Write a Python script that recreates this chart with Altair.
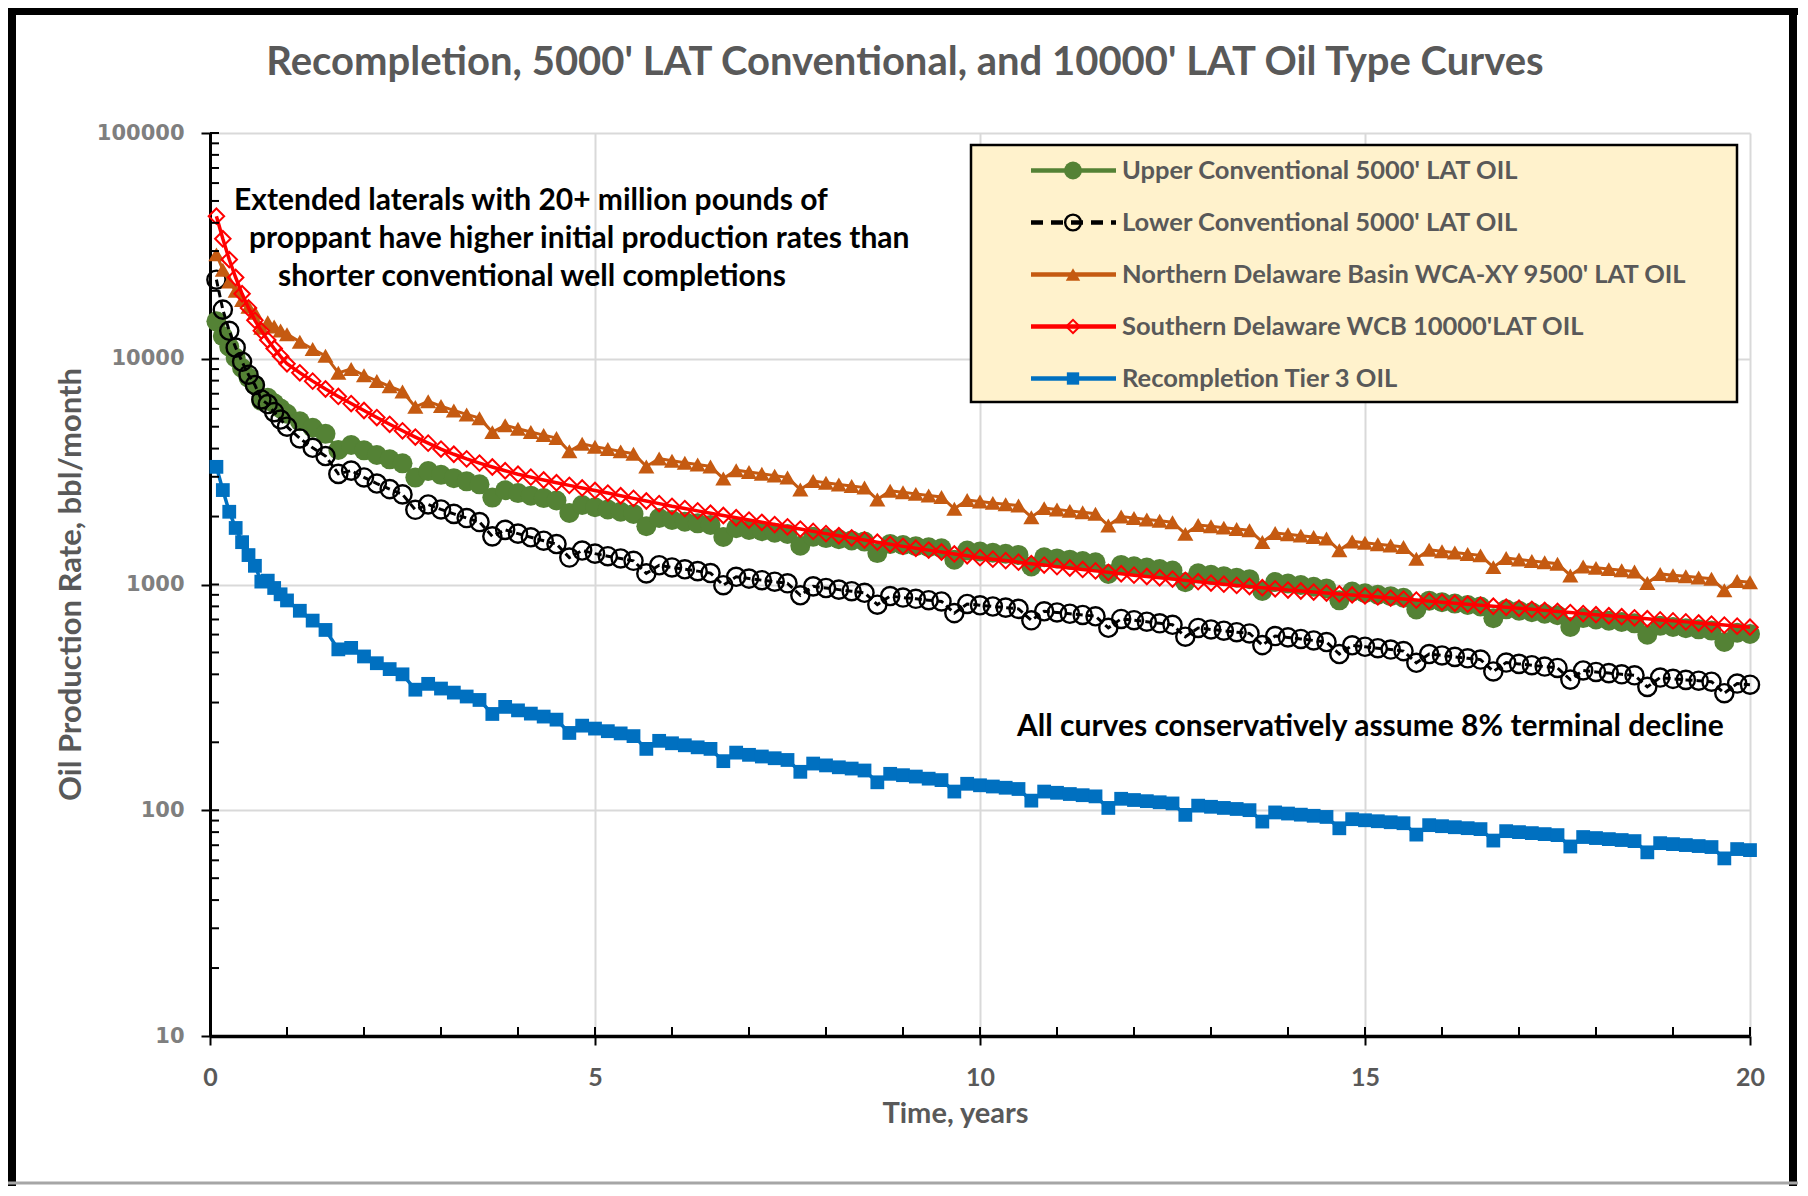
import altair as alt
import pandas as pd

# ---------------- data ----------------
# month index of each plotted point (monthly in year 1, every 2nd month afterwards)
MONTHS = list(range(1, 13)) + list(range(14, 241, 2))

SERIES_NAMES = [
    "Upper Conventional 5000' LAT OIL",
    "Lower Conventional 5000' LAT OIL",
    "Northern Delaware Basin WCA-XY 9500' LAT OIL",
    "Southern Delaware WCB 10000'LAT OIL",
    "Recompletion Tier 3 OIL",
]

UPPER_CONV = [
    14650, 12600, 11300, 10100, 9100, 8250, 7650, 6500, 6720, 6350, 6020, 5700,
    5288, 4945, 4648, 3947, 4147, 3930,
    3746, 3585, 3441, 2975, 3180, 3060,
    2958, 2865, 2777, 2426, 2615, 2540,
    2475, 2414, 2356, 2073, 2250, 2200,
    2149, 2101, 2055, 1811, 1970, 1930,
    1898, 1866, 1835, 1625, 1775, 1745,
    1721, 1697, 1673, 1485, 1627, 1605,
    1586, 1568, 1549, 1378, 1513, 1495,
    1479, 1463, 1447, 1288, 1415, 1400,
    1384, 1368, 1352, 1202, 1320, 1305,
    1288, 1271, 1254, 1113, 1221, 1205,
    1188, 1171, 1154, 1023, 1121, 1105,
    1089, 1072, 1056, 937, 1025, 1010,
    994, 977, 961, 851, 930, 915,
    901, 888, 874, 775, 848, 835,
    823, 811, 799, 709, 776, 765,
    754, 742, 731, 649, 710, 700,
    691, 682, 673, 599, 656, 648,
    640, 633, 625, 556, 611, 604,
]

LOWER_CONV = [
    22400, 16500, 13300, 11200, 9700, 8500, 7650, 6600, 6300, 5800, 5380, 5000,
    4435, 4033, 3708, 3090, 3195, 2980,
    2801, 2646, 2507, 2142, 2262, 2150,
    2055, 1969, 1890, 1634, 1746, 1680,
    1619, 1563, 1511, 1316, 1414, 1370,
    1335, 1304, 1273, 1120, 1217, 1190,
    1168, 1146, 1124, 993, 1082, 1062,
    1045, 1029, 1012, 896, 981, 965,
    949, 934, 919, 814, 889, 875,
    864, 852, 841, 747, 820, 809,
    799, 790, 780, 694, 761, 752,
    742, 733, 723, 643, 704, 695,
    684, 673, 663, 587, 642, 632,
    624, 615, 607, 539, 591, 583,
    574, 565, 556, 492, 538, 530,
    522, 515, 507, 450, 492, 485,
    478, 471, 465, 412, 451, 445,
    439, 433, 427, 379, 416, 410,
    405, 400, 396, 352, 387, 382,
    378, 375, 371, 330, 364, 360,
]

NORTH_DEL = [
    29000, 24800, 22000, 20000, 18200, 17000, 16000, 13700, 14500, 13900, 13350, 12850,
    11886, 11049, 10302, 8663, 9010, 8450,
    7974, 7547, 7158, 6122, 6477, 6170,
    5905, 5668, 5456, 4732, 5075, 4900,
    4739, 4590, 4452, 3891, 4199, 4080,
    3983, 3888, 3795, 3335, 3616, 3530,
    3464, 3398, 3334, 2945, 3210, 3150,
    3092, 3036, 2980, 2633, 2872, 2820,
    2775, 2730, 2687, 2380, 2602, 2560,
    2520, 2481, 2442, 2164, 2367, 2330,
    2299, 2268, 2238, 1987, 2179, 2150,
    2119, 2088, 2058, 1825, 1999, 1970,
    1942, 1915, 1888, 1676, 1836, 1810,
    1786, 1762, 1738, 1544, 1692, 1670,
    1646, 1622, 1598, 1418, 1552, 1530,
    1508, 1487, 1466, 1301, 1425, 1405,
    1385, 1366, 1346, 1194, 1309, 1290,
    1272, 1254, 1236, 1097, 1202, 1185,
    1170, 1156, 1142, 1015, 1114, 1100,
    1087, 1074, 1061, 944, 1036, 1024,
]

SOUTH_DEL = [
    42800, 34000, 27500, 22900, 19400, 16800, 14800, 13300, 12100, 11100, 10250, 9500,
    8665, 7959, 7347, 6809, 6330, 5900,
    5490, 5124, 4796, 4499, 4229, 3980,
    3775, 3601, 3450, 3314, 3191, 3080,
    2989, 2904, 2824, 2749, 2678, 2610,
    2541, 2473, 2407, 2343, 2281, 2220,
    2169, 2119, 2070, 2022, 1976, 1930,
    1886, 1843, 1801, 1760, 1719, 1680,
    1644, 1609, 1574, 1540, 1507, 1475,
    1447, 1420, 1393, 1366, 1340, 1315,
    1295, 1276, 1256, 1237, 1219, 1200,
    1183, 1166, 1149, 1132, 1116, 1100,
    1085, 1071, 1057, 1043, 1029, 1015,
    1003, 991, 980, 968, 957, 945,
    936, 926, 917, 908, 899, 890,
    881, 871, 862, 853, 844, 835,
    826, 818, 809, 801, 793, 785,
    776, 768, 760, 751, 743, 735,
    727, 720, 712, 705, 697, 690,
    683, 675, 668, 661, 654, 647,
]

RECOMP_T3 = [
    3320, 2620, 2100, 1780, 1540, 1350, 1210, 1030, 1040, 965, 905, 850,
    765, 692, 629, 516, 524, 480,
    448, 422, 400, 342, 363, 346,
    332, 319, 308, 267, 287, 277,
    268, 260, 252, 220, 237, 230,
    224, 219, 213, 187, 203, 198,
    194, 190, 187, 165, 180, 176,
    173, 170, 167, 148, 161, 158,
    155, 153, 150, 133, 145, 143,
    141, 138, 136, 121, 131, 129,
    127.4, 125.8, 124.2, 110.3, 121.0, 119.5,
    118.0, 116.6, 115.2, 102.4, 112.4, 111.0,
    109.7, 108.5, 107.2, 95.4, 104.8, 103.6,
    102.4, 101.3, 100.1, 89.1, 97.8, 96.7,
    95.6, 94.5, 93.4, 83.2, 91.3, 90.3,
    89.4, 88.5, 87.6, 78.0, 85.9, 85.0,
    84.1, 83.3, 82.5, 73.4, 80.8, 80.0,
    79.2, 78.4, 77.6, 69.1, 76.1, 75.3,
    74.5, 73.8, 73.0, 65.1, 71.5, 70.8,
    70.1, 69.4, 68.7, 61.2, 67.3, 66.6,
]

X_TICKS = [0, 5, 10, 15, 20]
X_MINOR = list(range(0, 21))
Y_TICKS = [10, 100, 1000, 10000, 100000]
Y_MINOR = [m * 10 ** k for k in range(1, 5) for m in range(1, 10)] + [100000]

TITLE = "Recompletion, 5000' LAT Conventional, and 10000' LAT Oil Type Curves"
NOTE_LINES = [
    "Extended laterals with 20+ million pounds of",
    "proppant have higher initial production rates than",
    "shorter conventional well completions",
]
NOTE_DECLINE = "All curves conservatively assume 8% terminal decline"

# ---------------- styles / layout ----------------
W, H = 1540, 903
GRID = "#d9d9d9"
GRAY_TEXT = "#595959"

STYLES = [
    dict(color="#548235", shape="circle", filled=True, size=400, stroke=2, line=3.5, dash=None),
    dict(color="#000000", shape="circle", filled=False, size=330, stroke=2.4, line=3, dash=[7, 4]),
    dict(color="#c55a11", shape="triangle-up", filled=True, size=260, stroke=1, line=3, dash=None),
    dict(color="#ff0000", shape="diamond", filled=False, size=240, stroke=2, line=3.5, dash=None),
    dict(color="#0070c0", shape="square", filled=True, size=190, stroke=1, line=3.5, dash=None),
]
LEGEND_SCALE = [0.8, 0.75, 0.8, 0.75, 0.8]
VALUES = [UPPER_CONV, LOWER_CONV, NORTH_DEL, SOUTH_DEL, RECOMP_T3]

xs = alt.Scale(domain=[0, 20], nice=False, zero=False)
ys = alt.Scale(type="log", domain=[10, 100000], nice=False)

x_axis = alt.Axis(
    values=X_TICKS, title="Time, years", grid=True, gridColor=GRID, gridWidth=2,
    domainColor="black", domainWidth=3.5, tickColor="black", tickSize=9, tickWidth=2,
    labelFont="Lato", labelFontWeight="bold", labelFontSize=25, labelColor=GRAY_TEXT,
    labelPadding=20, labelFlush=False,
    titleFont="Lato", titleFontWeight="bold", titleFontSize=29, titleColor=GRAY_TEXT,
    titleX=745, titleY=77, titleBaseline="middle", titleAlign="center",
)
y_axis = alt.Axis(
    values=Y_TICKS, format="d", title="Oil Production Rate, bbl/month", grid=True,
    gridColor=GRID, gridWidth=2, domainColor="black", domainWidth=3,
    tickColor="black", tickSize=9, tickWidth=2,
    labelFont="DejaVu Sans", labelFontWeight="bold", labelFontSize=21, labelColor="#7f7f7f",
    labelPadding=17, labelFlush=False,
    titleFont="Lato", titleFontWeight="bold", titleFontSize=31, titleColor=GRAY_TEXT,
    titleX=-139, titleY=451, titleAngle=-90, titleBaseline="middle", titleAlign="center",
)

one = pd.DataFrame({"k": [0]})
layers = []

# series
t_years = [m / 12 for m in MONTHS]
for name, vals, st in zip(SERIES_NAMES, VALUES, STYLES):
    assert len(vals) == len(MONTHS), name
    df = pd.DataFrame({"t": t_years, "rate": vals, "series": name})
    base = alt.Chart(df).encode(
        x=alt.X("t:Q", scale=xs, axis=x_axis),
        y=alt.Y("rate:Q", scale=ys, axis=y_axis),
    )
    line_kw = dict(color=st["color"], strokeWidth=st["line"])
    if st["dash"]:
        line_kw["strokeDash"] = st["dash"]
    layers.append(base.mark_line(**line_kw))
    layers.append(base.mark_point(shape=st["shape"], filled=st["filled"], size=st["size"],
                                  color=st["color"], strokeWidth=st["stroke"], opacity=1))

# minor / inner ticks
layers.append(
    alt.Chart(pd.DataFrame({"v": Y_MINOR})).mark_rule(color="black", strokeWidth=2).encode(
        y=alt.Y("v:Q", scale=ys, axis=y_axis), x=alt.value(0), x2=alt.value(9))
)
layers.append(
    alt.Chart(pd.DataFrame({"v": X_MINOR})).mark_rule(color="black", strokeWidth=2).encode(
        x=alt.X("v:Q", scale=xs, axis=x_axis), y=alt.value(H), y2=alt.value(H - 9))
)

# annotations
note_pos = [(24, 68), (39, 106), (68, 144)]
for txt, (nx, ny) in zip(NOTE_LINES, note_pos):
    layers.append(
        alt.Chart(pd.DataFrame({"txt": [txt]})).mark_text(
            align="left", baseline="middle", font="Lato", fontWeight="bold",
            fontSize=30, color="black").encode(text="txt:N", x=alt.value(nx), y=alt.value(ny))
    )
layers.append(
    alt.Chart(pd.DataFrame({"txt": [NOTE_DECLINE]})).mark_text(
        align="left", baseline="middle", font="Lato", fontWeight="bold",
        fontSize=30, color="black").encode(text="txt:N", x=alt.value(807), y=alt.value(594))
)

# legend box
layers.append(
    alt.Chart(one).mark_rect(fill="#fff2cc", stroke="black", strokeWidth=2.5).encode(
        x=alt.value(761), x2=alt.value(1527), y=alt.value(12), y2=alt.value(269))
)
for i, (name, st) in enumerate(zip(SERIES_NAMES, STYLES)):
    ly = 37.5 + i * 52
    rule_kw = dict(color=st["color"], strokeWidth=4.5)
    if st["dash"]:
        rule_kw["strokeDash"] = [12, 8]
    layers.append(alt.Chart(one).mark_rule(**rule_kw).encode(
        x=alt.value(821), x2=alt.value(906), y=alt.value(ly)))
    layers.append(alt.Chart(one).mark_point(
        shape=st["shape"], filled=st["filled"], size=st["size"] * LEGEND_SCALE[i],
        color=st["color"], strokeWidth=st["stroke"], opacity=1).encode(
        x=alt.value(863), y=alt.value(ly)))
    layers.append(alt.Chart(pd.DataFrame({"label": [name]})).mark_text(
        align="left", baseline="middle", font="Lato", fontWeight="bold", fontSize=25.5,
        color=GRAY_TEXT).encode(text="label:N", x=alt.value(912), y=alt.value(ly)))

# chart title
layers.append(
    alt.Chart(pd.DataFrame({"txt": [TITLE]})).mark_text(
        align="center", baseline="middle", font="Lato", fontWeight="bold", fontSize=40,
        color=GRAY_TEXT).encode(text="txt:N", x=alt.value(695), y=alt.value(-70))
)

# outer frame
layers.append(alt.Chart(one).mark_rule(color="black", strokeWidth=8).encode(
    x=alt.value(-198), y=alt.value(-125), y2=alt.value(1053)))
layers.append(alt.Chart(one).mark_rule(color="black", strokeWidth=7).encode(
    x=alt.value(-202), x2=alt.value(1588), y=alt.value(-121.5)))
layers.append(alt.Chart(one).mark_rule(color="black", strokeWidth=8).encode(
    x=alt.value(1583), y=alt.value(-125), y2=alt.value(1053)))
layers.append(alt.Chart(one).mark_rule(color="#a6a6a6", strokeWidth=3).encode(
    x=alt.value(-202), x2=alt.value(1588), y=alt.value(1050)))

chart = alt.layer(*layers).properties(
    width=W, height=H,
    autosize=alt.AutoSizeParams(type="none"),
    padding={"left": 202, "top": 125, "right": 48, "bottom": 150},
    background="white",
).configure_view(stroke=None)

chart.save("out.html", embed_options={"renderer": "svg", "actions": False})
